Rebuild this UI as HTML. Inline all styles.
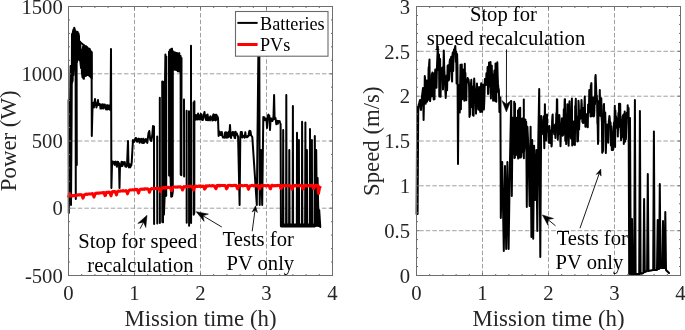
<!DOCTYPE html>
<html><head><meta charset="utf-8"><style>
html,body{margin:0;padding:0;background:#fff;overflow:hidden;}
svg{display:block;will-change:transform;}
text{font-family:"Liberation Serif",serif;fill:#262626;}
.g{stroke:#a0a0a0;stroke-width:1;stroke-dasharray:4.5 2.1;fill:none;}
.ax{stroke:#6e6e6e;stroke-width:1;fill:none;}
.t{stroke:#6e6e6e;stroke-width:1;fill:none;}
.d{fill:none;stroke:#000;stroke-width:2;stroke-linejoin:round;stroke-linecap:round;}
.fill{fill:#000;stroke:none;}
.r{fill:none;stroke:#ff0000;stroke-width:3;stroke-linejoin:round;}
.tl{font-size:20.7px;}
.lab{font-size:22.8px;}
.an{font-size:20.6px;fill:#000;}
.arr{stroke:#000;stroke-width:0.9;fill:none;}
.ah{fill:#000;stroke:#000;stroke-width:0.5;stroke-linejoin:miter;}
</style></head><body>
<svg width="685" height="330" viewBox="0 0 685 330">
<rect width="685" height="330" fill="#fff"/>
<line x1="134.5" y1="6.5" x2="134.5" y2="275.5" class="g"/>
<line x1="200.5" y1="6.5" x2="200.5" y2="275.5" class="g"/>
<line x1="266.5" y1="6.5" x2="266.5" y2="275.5" class="g"/>
<line x1="68.5" y1="73.8" x2="332.5" y2="73.8" class="g" stroke-dashoffset="-2.7"/>
<line x1="68.5" y1="141.0" x2="332.5" y2="141.0" class="g" stroke-dashoffset="-2.7"/>
<line x1="68.5" y1="208.2" x2="332.5" y2="208.2" class="g" stroke-dashoffset="-2.7"/>
<line x1="482.5" y1="6.5" x2="482.5" y2="275.5" class="g"/>
<line x1="548.5" y1="6.5" x2="548.5" y2="275.5" class="g"/>
<line x1="614.5" y1="6.5" x2="614.5" y2="275.5" class="g"/>
<line x1="416.5" y1="51.3" x2="680.5" y2="51.3" class="g" stroke-dashoffset="-2.7"/>
<line x1="416.5" y1="96.2" x2="680.5" y2="96.2" class="g" stroke-dashoffset="-2.7"/>
<line x1="416.5" y1="141.0" x2="680.5" y2="141.0" class="g" stroke-dashoffset="-2.7"/>
<line x1="416.5" y1="185.8" x2="680.5" y2="185.8" class="g" stroke-dashoffset="-2.7"/>
<line x1="416.5" y1="230.7" x2="680.5" y2="230.7" class="g" stroke-dashoffset="-2.7"/>
<path class="d" d="M72.0,34.0 72.1,82.5 72.7,80.3 72.8,32.4 73.4,29.6 73.5,75.1 74.1,68.7 74.2,27.8 74.8,29.4 74.9,64.5 75.5,61.5 75.6,31.1 76.2,32.8 76.3,60.8 76.9,61.9 77.0,32.3 77.6,31.8 77.7,59.4 78.3,59.1 78.4,33.2 79.0,36.2 79.1,60.0 79.7,60.7 79.8,41.5 80.4,45.7 80.5,63.2 81.1,68.1 81.2,49.7 81.8,50.7 81.9,72.5 82.5,77.0 82.6,49.5 83.2,46.3 83.3,78.4 83.9,78.8 84.0,45.3 84.6,46.4 84.7,76.3 85.3,75.6 85.4,46.6 86.0,46.4 86.1,75.7 86.7,75.2 86.8,46.8 87.4,47.8 87.5,74.6 88.1,75.0 88.2,48.3 88.8,48.9 88.9,74.6 89.5,76.2 89.6,48.8 90.2,51.1 90.3,76.5 90.9,77.3 91.0,52.4 91.6,52.7 91.7,78.6"/>
<path class="d" d="M75.6,60 L75.8,199 M76.6,60 L76.8,165"/>
<path class="d" d="M68.6,100.0 68.8,213.0 69.6,150.0 70.6,66.0 71.0,205.0 71.6,120.0 72.0,35.0 72.0,35.0 91.6,52.0 91.8,136.0 92.6,104.0 93.0,106.9 93.4,102.8 93.9,107.6 94.5,103.1 95.0,99.0 95.5,105.0 96.0,103.3 96.4,107.5 96.8,106.1 97.3,103.8 98.0,100.0 98.5,105.0 99.0,103.8 99.5,103.9 100.0,104.3 100.5,108.6 101.0,105.0 101.7,104.5 102.1,108.6 102.7,104.3 103.3,104.7 103.7,108.5 104.2,105.3 104.6,104.5 105.1,105.1 105.6,106.0 106.1,109.4 106.6,107.6 107.2,105.1 107.6,109.5 108.2,105.6 108.6,109.0 109.2,105.4 109.9,109.7 110.6,108.0 111.0,49.0 111.4,188.0 112.0,165.0 112.3,163.4 112.7,161.5 113.3,162.2 113.9,162.3 114.5,164.9 114.9,161.9 115.5,161.6 115.9,164.7 116.5,165.2 116.9,166.8 117.4,161.7 117.8,163.9 118.2,162.1 118.6,164.9 119.0,163.3 119.5,188.0 120.0,166.0 120.3,167.0 120.8,165.9 121.4,162.1 121.7,161.9 122.4,166.1 123.0,162.0 123.5,164.5 124.1,163.2 124.8,162.1 125.3,166.5 125.9,166.5 126.4,166.8 127.1,163.6 128.0,141.0 128.5,166.0 129.0,167.4 129.6,164.3 130.2,167.3 130.7,166.0 131.2,165.7 131.7,162.5 132.4,150.0 133.0,140.0 133.3,142.3 133.9,141.6 134.4,141.7 134.9,139.7 135.5,138.0 136.1,138.0 136.6,140.2 137.0,141.7 137.5,141.2 138.2,138.8 138.5,139.1 139.1,138.7 139.5,142.7 140.0,140.2 140.6,139.4 141.2,138.8 141.7,142.6 142.3,142.9 142.7,141.4 143.2,138.8 143.7,142.9 144.3,142.4 144.9,139.5 145.3,140.6 145.8,139.1 146.2,141.7 146.7,139.4 147.3,142.9 148.5,133.0 149.3,131.0 150.3,140.0 151.2,141.0 152.2,136.0 153.0,126.0"/>
<path class="d" d="M154.0,126.6 154.1,224.0 M157.2,136.4 157.3,223.6 M159.8,97.7 159.9,223.1 M162.2,81.5 162.3,222.0 163.0,222.3 163.1,81.7 163.8,101.6 163.9,214.6 164.6,197.6 164.7,104.2 165.4,54.4 165.5,196.1 166.2,195.8 166.3,56.5 M169.0,51.8 169.1,175.6 169.8,175.8 169.8,50.2 170.5,49.5 170.6,177.7 171.2,196.7 171.3,49.3 172.0,48.6 172.1,196.3 172.8,191.5 172.8,51.1 M174.5,52.3 174.6,69.7 175.3,69.7 175.4,52.8 176.1,52.9 176.2,69.8 176.9,70.2 177.0,52.9 177.7,53.6 177.8,71.2 178.5,71.0 178.6,53.8 179.3,53.1 179.4,71.5 M180.6,56.1 180.7,174.6 181.4,175.1 181.5,57.9 M184.0,99.4 184.1,176.4 M186.6,110.8 186.7,222.7 M189.0,111.3 189.1,225.7 M191.0,45.7 191.1,223.0 M193.6,102.6 193.7,214.8 194.3,213.0 194.4,101.2"/>
<path class="d" d="M194.6,115.0 195.4,115.0 195.8,119.7 196.4,116.9 197.0,114.9 197.7,119.5 198.1,113.5 198.6,117.2 199.2,116.6 199.5,119.4 199.9,119.3 200.3,115.2 200.9,113.9 201.3,117.0 201.8,119.6 202.4,120.0 202.9,120.0 203.3,114.5 203.8,115.0 204.5,112.0 205.0,117.0 205.5,118.4 206.0,119.9 206.5,115.3 207.0,119.9 207.6,114.6 208.2,120.3 208.7,117.9 209.1,117.5 209.6,118.2 210.0,120.4 210.5,116.2 211.1,117.9 211.6,119.1 212.0,117.7 212.4,120.5 213.1,115.2 213.5,114.4 214.0,120.0 214.6,117.2 215.1,114.8 215.6,120.5 216.0,119.9 216.4,114.8 216.8,119.2 217.2,116.1 218.0,118.0 218.6,136.0 219.0,131.5 219.6,131.6 220.1,132.3 220.5,134.9 221.0,133.4 221.4,134.9 221.8,132.0 222.4,136.0 222.9,137.5 223.4,137.5 223.8,136.9 224.4,137.7 224.9,132.9 225.5,132.2 226.2,137.7 226.5,132.4 227.1,132.6 227.5,137.5 228.0,137.3 228.4,133.8 228.9,131.6 229.3,136.6 230.0,125.0 230.6,136.0 231.0,138.1 231.4,134.9 232.0,134.9 232.5,132.3 232.9,131.9 233.3,135.5 233.8,135.6 234.1,132.3 234.6,137.8 235.2,138.1 235.6,131.8 236.2,134.6 236.8,133.3 237.3,135.0 237.8,135.9 238.1,136.7 239.6,205.0 240.3,137.0 240.8,132.0 241.3,136.9 241.8,132.0 242.2,134.8 242.5,137.6 243.1,136.5 243.7,135.8 244.2,135.5 244.7,137.7 245.3,132.3 245.9,136.6 246.5,137.0 247.0,137.3 247.6,136.0 248.1,136.4 248.6,136.0 249.0,132.4 249.5,130.7 249.9,135.1 250.5,131.3 251.1,135.2 252.3,137.0 256.8,205.0 258.5,40.0 259.3,40.0 259.7,205.0 261.0,150.0 262.2,205.0 263.3,117.0 264.0,118.5 264.5,117.4 265.0,120.2 265.5,119.0 266.1,120.3 266.5,118.4 267.0,128.0 267.6,118.0 268.0,115.5 268.5,114.6 268.9,116.5 269.3,115.6 270.0,130.0 270.6,119.0 271.0,118.4 271.5,120.9 272.0,121.0 272.6,120.9 272.9,119.6 273.5,116.2 274.1,95.0 274.6,119.0 275.0,117.6 275.5,118.0 276.0,122.0 276.4,124.2 276.8,121.9 277.4,120.8 277.8,123.8 278.3,120.9 278.9,121.4 279.2,121.3 279.6,121.1 280.2,123.0 280.6,124.0 280.9,226.0 282.9,226.0 283.2,130.0 283.4,226.0 286.1,226.0 286.3,95.0 286.6,226.0 289.1,226.0 289.3,150.0 289.6,226.0 292.6,226.0 292.9,106.0 293.1,226.0 296.8,226.0 297.0,132.7 297.2,226.0 298.6,226.0 298.9,140.0 299.1,226.0 301.9,226.0 302.1,121.8 302.4,226.0 305.1,226.0 305.4,122.5 305.6,226.0 306.6,226.0 306.9,150.0 307.1,226.0 309.8,226.0 310.0,129.0 310.2,226.0 311.6,226.0 311.9,140.0 312.1,226.0 314.5,226.0 314.8,136.0 315.4,226.0 316.2,150.0 317.0,226.0 317.6,178.0 318.6,226.0 319.2,210.0 320.3,227.0"/>
<path class="d" d="M281.2,224.6 L314.6,224.4 M281.2,226.6 L314.6,226.6"/>
<path class="r" d="M68.5,197.5 69.5,193.5 69.0,195.6 69.5,196.2 70.0,196.2 70.5,195.5 71.0,196.0 71.5,195.7 72.0,195.7 72.5,196.0 73.0,195.4 73.5,195.5 74.0,195.8 74.5,195.6 75.0,195.4 75.5,195.7 76.0,195.5 76.5,195.3 77.0,194.9 77.5,195.2 78.0,195.1 78.5,194.8 79.0,194.7 79.5,195.0 80.0,194.6 80.5,194.8 81.0,194.9 81.5,194.7 82.0,195.1 82.5,196.8 83.0,198.2 83.5,196.9 84.0,195.1 84.5,194.8 85.0,194.7 85.5,194.5 86.0,194.2 86.5,194.0 87.0,194.5 87.5,194.4 88.0,194.2 88.5,194.0 89.0,193.9 89.5,194.1 90.0,194.0 90.5,194.0 91.0,194.0 91.5,194.0 92.0,193.5 92.5,193.5 93.0,194.3 93.5,195.7 94.0,197.1 94.5,195.6 95.0,194.1 95.5,193.3 96.0,193.3 96.5,193.4 97.0,193.0 97.5,193.3 98.0,192.9 98.5,192.9 99.0,193.2 99.5,193.1 100.0,193.1 100.5,192.9 101.0,192.9 101.5,192.7 102.0,192.7 102.5,192.9 103.0,193.0 103.5,192.4 104.0,192.4 104.5,194.3 105.0,195.6 105.5,195.4 106.0,193.4 106.5,192.3 107.0,192.2 107.5,192.5 108.0,192.2 108.5,192.3 109.0,192.5 109.5,192.0 110.0,192.7 110.5,194.3 111.0,195.9 111.5,194.0 112.0,192.4 112.5,191.5 113.0,192.0 113.5,191.4 114.0,191.4 114.5,191.7 115.0,191.6 115.5,192.6 116.0,193.7 116.5,194.9 117.0,192.9 117.5,191.4 118.0,191.4 118.5,191.0 119.0,191.1 119.5,191.3 120.0,191.2 120.5,190.9 121.0,190.8 121.5,190.9 122.0,191.1 122.5,190.8 123.0,190.6 123.5,190.9 124.0,190.8 124.5,191.0 125.0,190.9 125.5,190.9 126.0,190.5 126.5,191.3 127.0,192.4 127.5,193.9 128.0,192.4 128.5,191.2 129.0,190.5 129.5,190.0 130.0,190.1 130.5,190.0 131.0,190.0 131.5,190.0 132.0,189.9 132.5,189.7 133.0,189.9 133.5,190.0 134.0,189.8 134.5,190.0 135.0,189.7 135.5,189.4 136.0,189.8 136.5,189.8 137.0,189.4 137.5,189.8 138.0,191.6 138.5,193.1 139.0,191.6 139.5,190.3 140.0,189.5 140.5,189.5 141.0,189.0 141.5,189.3 142.0,189.4 142.5,188.9 143.0,188.9 143.5,189.3 144.0,189.4 144.5,188.8 145.0,189.1 145.5,188.7 146.0,189.1 146.5,189.0 147.0,188.7 147.5,188.7 148.0,189.0 148.5,189.4 149.0,191.1 149.5,192.3 150.0,190.7 150.5,189.6 151.0,188.8 151.5,188.6 152.0,188.6 152.5,188.7 153.0,188.7 153.5,188.8 154.0,188.4 154.5,188.7 155.0,188.5 155.5,188.6 156.0,188.5 156.5,188.5 157.0,188.5 157.5,188.6 158.0,188.3 158.5,188.2 159.0,188.3 159.5,188.9 160.0,190.1 160.5,191.6 161.0,189.9 161.5,188.7 162.0,188.3 162.5,187.8 163.0,187.6 163.5,187.6 164.0,187.8 164.5,187.6 165.0,188.1 165.5,187.4 166.0,187.6 166.5,187.4 167.0,187.7 167.5,187.8 168.0,187.3 168.5,187.2 169.0,187.5 169.5,187.5 170.0,187.7 170.5,187.7 171.0,189.2 171.5,190.7 172.0,189.2 172.5,187.7 173.0,187.4 173.5,187.3 174.0,187.0 174.5,186.9 175.0,187.0 175.5,186.9 176.0,187.2 176.5,186.9 177.0,187.0 177.5,187.2 178.0,186.9 178.5,186.7 179.0,187.1 179.5,187.1 180.0,186.7 180.5,186.8 181.0,187.1 181.5,187.3 182.0,188.6 182.5,190.0 183.0,189.1 183.5,187.5 184.0,186.6 184.5,186.7 185.0,186.7 185.5,186.5 186.0,187.0 186.5,186.7 187.0,186.4 187.5,186.2 188.0,186.5 188.5,186.5 189.0,186.7 189.5,186.7 190.0,186.6 190.5,186.2 191.0,186.2 191.5,186.3 192.0,186.3 192.5,187.3 193.0,188.5 193.5,190.1 194.0,188.8 194.5,186.8 195.0,186.4 195.5,186.1 196.0,186.5 196.5,186.0 197.0,186.5 197.5,186.5 198.0,186.5 198.5,186.0 199.0,186.1 199.5,186.4 200.0,185.9 200.5,186.2 201.0,186.1 201.5,186.5 202.0,186.2 202.5,186.4 203.0,186.0 203.5,186.3 204.0,187.2 204.5,189.1 205.0,188.8 205.5,187.8 206.0,185.8 206.5,186.0 207.0,186.0 207.5,185.7 208.0,186.2 208.5,185.8 209.0,185.8 209.5,185.6 210.0,185.8 210.5,185.9 211.0,186.0 211.5,185.8 212.0,186.0 212.5,185.5 213.0,185.7 213.5,185.8 214.0,186.1 214.5,186.0 215.0,187.1 215.5,188.1 216.0,188.6 216.5,187.4 217.0,185.5 217.5,185.7 218.0,185.6 218.5,185.3 219.0,186.0 219.5,185.8 220.0,185.4 220.5,185.7 221.0,185.5 221.5,185.5 222.0,185.6 222.5,185.5 223.0,185.5 223.5,185.5 224.0,185.7 224.5,185.4 225.0,185.4 225.5,185.8 226.0,187.0 226.5,188.9 227.0,188.3 227.5,187.0 228.0,185.5 228.5,185.8 229.0,185.3 229.5,185.3 230.0,185.3 230.5,185.7 231.0,185.7 231.5,185.4 232.0,185.5 232.5,185.8 233.0,185.7 233.5,185.3 234.0,185.4 234.5,185.4 235.0,185.3 235.5,185.5 236.0,185.3 236.5,186.2 237.0,187.3 237.5,188.9 238.0,188.1 238.5,186.7 239.0,185.8 239.5,185.5 240.0,185.5 240.5,185.5 241.0,185.3 241.5,185.5 242.0,185.7 242.5,185.9 243.0,185.8 243.5,185.7 244.0,185.7 244.5,185.3 245.0,185.5 245.5,185.5 246.0,185.7 246.5,185.3 247.0,185.5 247.5,186.2 248.0,187.9 248.5,189.4 249.0,187.8 249.5,186.0 250.0,185.8 250.5,185.9 251.0,185.6 251.5,185.5 252.0,185.6 252.5,185.3 253.0,185.7 253.5,185.9 254.0,185.6 254.5,185.8 255.0,185.8 255.5,185.4 256.0,185.9 256.5,185.7 257.0,185.4 257.5,185.3 258.0,185.4 258.5,186.6 259.0,188.1 259.5,188.8 260.0,187.7 260.5,185.8 261.0,185.6 261.5,185.3 262.0,185.9 262.5,185.3 263.0,185.9 263.5,185.6 264.0,185.6 264.5,185.6 265.0,185.4 265.5,185.9 266.0,185.9 266.5,185.8 267.0,185.7 267.5,185.3 268.0,185.8 268.5,185.5 269.0,185.9 269.5,186.6 270.0,188.4 270.5,188.8 271.0,186.9 271.5,185.6 272.0,185.3 272.5,185.3 273.0,185.4 273.5,185.9 274.0,185.9 274.5,185.7 275.0,185.5 275.5,185.7 276.0,185.8 276.5,185.5 277.0,185.7 277.5,185.8 278.0,185.3 278.5,185.4 279.0,185.6 279.5,185.4 280.0,185.5 280.5,187.1 281.0,188.4 281.5,188.3 282.0,186.6 282.5,185.6 283.0,185.5 283.5,185.7 284.0,185.3 284.5,185.7 285.0,185.4 285.5,185.9 286.0,185.7 286.5,185.6 287.0,185.5 287.5,185.7 288.0,185.7 288.5,185.8 289.0,185.8 289.5,185.6 290.0,185.9 290.5,185.8 291.0,186.4 291.5,187.6 292.0,189.2 292.5,187.7 293.0,186.5 293.5,185.6 294.0,185.6 294.5,185.6 295.0,185.9 295.5,185.5 296.0,185.3 296.5,185.8 297.0,185.9 297.5,185.8 298.0,185.7 298.5,185.8 299.0,185.5 299.5,185.7 300.0,185.3 300.5,185.3 301.0,185.6 301.5,185.6 302.0,186.4 302.5,187.7 303.0,189.0 303.5,187.4 304.0,185.7 304.5,185.5 305.0,185.5 305.5,185.4 306.0,185.3 306.5,185.9 307.0,185.9 307.5,185.7 308.0,185.9 308.5,185.5 309.0,185.8 309.5,185.4 310.0,185.8 310.5,185.6 311.0,185.9 311.5,185.3 312.0,185.8 312.5,185.3 313.0,186.8 313.5,188.6 314.0,188.3 314.5,186.9 315.0,185.5 315.5,185.5 316.0,185.3 316.5,185.9 317.0,185.8 317.5,185.5 318.0,185.5 318.5,193.5 319.5,188.0 320.5,186.0"/>
<path class="d" d="M416.6,214.0 417.2,107.0 417.6,214.0 418.2,112.0 419.0,104.0 420.0,100.0 421.0,110.0 422.0,96.0 423.0,88.0 423.6,120.0 424.2,90.0 424.5,94.7 424.8,76.0 425.3,81.9 425.7,103.7 426.2,88.0 426.5,80.5 427.0,101.7 427.4,100.2 427.7,84.5 428.0,100.1 428.6,68.4 429.0,65.7 429.5,59.4 429.8,94.8 430.1,101.1 430.6,95.6 430.9,95.5 431.5,83.6 431.8,74.1 432.1,96.2 432.4,72.5 432.8,93.6 433.2,79.3 433.7,99.6 434.1,73.3 434.5,99.3 434.9,74.5 435.3,69.6 435.8,80.9 436.2,84.9 436.5,87.8 436.9,68.2 437.8,46.5 438.4,70.0 439.0,54.4 439.3,96.6 439.7,63.2 440.1,58.9 440.6,96.7 440.9,73.2 441.3,68.6 441.8,75.2 442.2,78.4 442.6,67.2 443.0,89.5 443.8,50.5 444.3,70.0 444.8,77.9 445.3,89.4 445.7,97.9 446.0,93.1 446.3,84.9 446.7,75.6 447.1,90.3 447.6,65.9 448.0,65.2 448.4,76.2 448.7,80.5 449.2,79.2 449.6,62.4 450.0,59.3 450.4,71.0 450.7,62.7 451.2,56.7 451.7,74.3 452.1,81.6 452.5,54.8 452.8,52.4 453.2,70.9 453.6,54.7 454.0,49.5 454.5,49.7 455.3,46.0 455.9,62.0 456.2,51.5 456.6,83.4 457.1,54.1 457.5,67.6 458.0,164.0 458.6,85.0 459.0,107.9 459.3,85.3 459.8,112.5 460.1,85.7 460.5,64.7 460.9,109.2 461.2,79.5 461.5,81.1 461.8,64.6 462.3,99.3 462.8,69.3 463.1,86.2 463.5,80.7 464.0,74.9 464.3,100.8 464.8,63.8 465.1,90.2 465.4,72.9 465.9,98.0 466.3,100.2 466.7,79.8 467.2,82.3 467.7,78.0 468.0,79.4 468.4,79.3 468.8,81.5 469.1,86.3 469.5,116.9 470.0,114.6 470.3,90.2 470.6,107.4 471.0,83.8 471.3,79.8 471.6,89.1 472.1,107.0 472.4,86.6 472.8,114.9 473.1,110.6 473.6,115.8 473.9,86.3 474.2,78.5 474.7,88.6 475.2,101.0 475.5,94.2 476.0,113.6 476.6,92.0 477.0,83.6 477.3,105.8 477.6,91.4 478.0,102.6 478.3,109.5 478.6,109.6 479.1,86.9 479.4,90.3 479.9,94.8 480.2,111.9 480.6,89.6 480.9,86.8 481.2,83.3 481.7,100.6 482.1,111.9 482.5,104.4 483.0,84.5 483.4,103.4 483.9,109.4 484.3,101.3 484.6,91.2 484.9,78.9 485.3,84.7 485.7,80.7 486.0,84.9 486.4,73.3 486.9,73.5 487.2,76.7 487.6,67.0 488.0,94.0 488.4,93.6 488.7,75.4 489.0,62.7 489.4,62.5 489.8,86.4 490.2,71.2 490.5,62.1 490.9,98.5 491.3,68.3 491.8,65.7 492.2,88.3 492.7,74.2 493.1,100.7 493.6,89.9 494.0,77.9 494.4,70.5 494.8,100.3 495.2,101.0 495.5,63.6 495.9,70.0 496.3,101.8 496.6,63.7 496.9,92.5 497.3,62.2 497.7,77.0 498.0,83.9 498.4,88.3 498.9,90.1 499.3,105.8 499.4,112.0 500.4,97.4 500.8,218.0 502.2,162.0 503.8,251.0 505.0,166.0 506.2,249.0 507.4,162.0 508.6,249.0 509.8,170.0 511.2,101.0 511.8,196.0 512.6,120.0"/>
<path class="d" d="M514.2,101.7 514.3,158.0 514.9,157.8 515.0,103.6 M518.0,110.4 518.1,158.1 518.7,157.3 518.8,111.5 519.4,108.2 519.5,157.0 520.1,156.5 520.2,107.7 M523.8,99.5 523.9,158.3 M511.0,118.6 511.1,148.3 511.8,151.2 511.9,117.6 512.6,117.8 512.7,152.8 513.4,154.3 513.5,118.2 514.2,117.4 514.3,155.7 515.0,152.4 515.1,117.5 515.8,117.6 515.9,154.5 516.6,154.8 516.7,118.9 517.4,117.8 517.5,153.1 518.2,158.5 518.3,119.2 519.0,118.0 519.1,156.3 519.8,157.5 519.9,119.2 520.6,119.1 520.7,157.6 521.4,156.0 521.5,119.1 522.2,118.4 522.3,152.3 523.0,150.7 523.1,119.5 523.8,118.9 523.9,152.0 524.6,149.7 524.7,119.3 525.4,119.6 525.5,147.5"/>
<path class="d" d="M525.8,123.0 526.2,122.0 526.8,207.0 527.4,126.8 528.5,150.0 529.6,206.0 530.6,126.8 531.4,237.0 532.2,140.0 533.2,238.8 534.1,145.8 535.2,200.0 536.4,150.0 537.3,231.0 538.3,140.0 539.2,89.0 540.3,257.0 541.2,116.0 541.6,132.1 541.9,134.3 542.2,130.1 542.5,129.1 542.8,132.0 543.1,127.5 543.4,120.1 543.7,116.3 544.0,136.7 544.3,148.3 544.6,130.6 544.9,104.2 545.2,129.8 545.5,129.0 545.8,119.4 546.1,140.4 546.4,119.3 546.7,131.6 547.0,114.6 547.3,130.8 547.6,130.7 547.9,131.9 548.2,126.9 548.5,137.3 548.8,142.7 549.1,132.7 549.4,125.9 549.7,131.8 550.0,142.9 550.3,134.4 550.6,133.6 550.9,130.6 551.2,132.6 551.5,146.5 551.8,144.7 552.1,121.6 552.4,116.4 552.7,114.5 553.0,131.8 553.3,126.4 553.6,125.9 553.9,126.9 554.2,134.3 554.5,132.7 554.8,125.8 555.1,124.5 555.4,137.9 555.7,130.5 556.0,125.5 556.3,113.2 556.6,123.5 556.9,99.2 557.2,99.5 557.5,124.9 557.8,139.7 558.1,132.9 558.4,116.2 558.7,133.9 559.0,121.3 559.3,114.9 559.6,118.6 559.9,127.2 560.2,130.6 560.5,146.2 560.8,135.7 561.1,134.0 561.4,126.7 561.7,125.9 562.0,118.3 562.3,134.9 562.6,135.8 562.9,121.4 563.2,135.0 563.5,127.0 563.8,109.2 564.1,127.5 564.4,112.1 564.7,99.3 565.0,99.3 565.3,140.8 565.6,117.8 565.9,132.3 566.2,144.1 566.5,116.4 566.8,115.0 567.1,117.4 567.4,104.2 567.7,120.5 568.0,124.0 568.3,139.2 568.6,145.7 568.9,135.5 569.2,105.8 569.5,101.2 569.8,133.6 570.1,126.7 570.4,136.5 570.7,127.7 571.0,138.5 571.3,128.3 571.6,108.5 571.9,98.6 572.2,145.6 572.5,128.8 572.8,124.7 573.1,144.6 573.4,136.1 573.7,121.6 574.0,135.1 574.3,133.6 574.6,127.3 574.9,145.0 575.2,105.9 575.5,107.1 575.8,98.8 576.1,116.1 576.4,122.0 576.7,116.4 577.0,128.4 577.3,141.4 577.6,133.4 577.9,141.2 578.2,134.5 578.5,100.7 578.8,106.7 579.1,129.4 579.4,122.0 579.7,115.0 580.0,113.1 580.3,118.8 580.6,111.8 580.9,110.1 581.2,109.2 581.5,100.0 581.8,105.9 582.1,116.5 582.4,122.0 582.7,108.8 583.0,123.1 583.3,115.4 583.6,107.7 583.9,108.0 584.2,122.6 584.5,104.6 584.8,96.4 585.1,119.1 585.4,126.8 585.7,123.5 586.0,126.6 586.3,115.7 586.6,114.3 586.9,125.4 587.2,117.3 587.5,126.7 587.8,127.2 588.1,104.4 588.4,112.6 588.7,108.2 589.0,106.4 589.3,90.0 589.6,104.6 589.9,106.7 590.2,98.8 590.5,116.4 590.8,85.2 591.1,84.2 591.4,83.1 591.7,114.6 592.0,116.2 592.3,111.3 592.6,103.7 592.9,97.6 593.2,98.0 593.5,109.9 593.8,116.5 594.1,115.7 594.4,110.0 594.7,96.4 595.0,104.2 595.3,77.7 595.6,75.0 595.9,82.7 596.2,89.8 596.5,98.8 596.8,95.5 597.1,102.5 597.4,123.0 597.7,124.8 598.0,144.0 598.3,140.5 598.6,104.2 598.9,100.9 599.2,112.2 599.5,103.8 599.8,90.0 600.1,115.6 600.4,113.0 600.7,116.0 601.0,115.1 601.3,98.2 601.6,117.8 601.9,122.1 602.2,152.8 602.5,152.1 602.8,151.5 603.1,150.4 603.4,122.5 603.7,105.5 604.0,104.0 604.3,117.2 604.6,122.1 604.9,116.4 605.2,112.4 605.5,122.6 605.8,153.1 606.1,143.9 606.4,127.7 606.7,132.1 607.0,124.4 607.3,137.9 607.6,130.2 607.9,128.7 608.2,142.7 608.5,134.2 608.8,121.6 609.1,119.0 609.4,116.0 609.7,117.8 610.0,123.7 610.3,122.1 610.6,122.5 610.9,145.4 611.2,126.2 611.5,131.7 611.8,150.0 612.1,133.0 612.4,137.3 612.7,147.4 613.0,150.0 613.3,139.6 613.6,128.3 613.9,123.3 614.2,121.9 614.5,121.7 614.8,105.8 615.1,146.9 615.4,110.6 615.7,125.4 616.0,116.2 616.3,121.9 616.6,127.8 616.9,127.3 617.2,118.7 617.5,119.7 617.8,136.6 618.1,125.0 618.4,112.9 618.7,127.1 619.0,103.7 619.3,108.4 619.6,107.7 619.9,103.8 620.2,103.9 620.5,128.4 620.8,133.3 621.1,140.2 621.4,136.0 621.7,137.5 622.0,119.5 622.3,131.3 622.6,117.0 622.9,115.6 623.2,118.3 623.5,114.5 623.8,144.0 624.1,128.0 624.4,122.7 624.7,111.6 625.0,141.8 625.3,126.3 625.6,125.3 625.9,139.3 626.2,129.2 626.5,121.4 626.8,112.7 627.1,114.1 627.4,118.1 627.7,105.3 628.0,113.8 628.6,108.0 629.2,274.0 630.0,118.0 630.8,274.0 631.4,274.0 632.0,219.0 632.6,274.0 634.2,274.0 634.9,100.0 635.6,274.0 639.2,274.0 639.9,111.0 640.6,274.0 643.4,273.0 644.1,199.0 644.8,272.0 647.1,271.0 647.8,174.0 648.5,271.0 653.2,270.0 653.9,131.4 654.6,270.0 657.0,270.0 657.7,220.0 658.4,269.0 659.1,269.0 659.8,184.0 660.5,268.0 662.3,268.0 663.0,221.0 663.7,268.0 664.6,268.0 665.3,212.0 666.0,270.0 668.0,272.0 669.0,273.0"/>
<path d="M68.5,6.5v2.7M68.5,275.5v-2.7M134.5,6.5v2.7M134.5,275.5v-2.7M200.5,6.5v2.7M200.5,275.5v-2.7M266.5,6.5v2.7M266.5,275.5v-2.7M332.5,6.5v2.7M332.5,275.5v-2.7M68.5,6.5h2.7M332.5,6.5h-2.7M68.5,73.8h2.7M332.5,73.8h-2.7M68.5,141.0h2.7M332.5,141.0h-2.7M68.5,208.2h2.7M332.5,208.2h-2.7M68.5,275.5h2.7M332.5,275.5h-2.7M81.7,6.5v1.5M81.7,275.5v-1.5M94.9,6.5v1.5M94.9,275.5v-1.5M108.1,6.5v1.5M108.1,275.5v-1.5M121.3,6.5v1.5M121.3,275.5v-1.5M147.7,6.5v1.5M147.7,275.5v-1.5M160.9,6.5v1.5M160.9,275.5v-1.5M174.1,6.5v1.5M174.1,275.5v-1.5M187.3,6.5v1.5M187.3,275.5v-1.5M213.7,6.5v1.5M213.7,275.5v-1.5M226.9,6.5v1.5M226.9,275.5v-1.5M240.1,6.5v1.5M240.1,275.5v-1.5M253.3,6.5v1.5M253.3,275.5v-1.5M279.7,6.5v1.5M279.7,275.5v-1.5M292.9,6.5v1.5M292.9,275.5v-1.5M306.1,6.5v1.5M306.1,275.5v-1.5M319.3,6.5v1.5M319.3,275.5v-1.5M68.5,19.9h1.5M332.5,19.9h-1.5M68.5,33.4h1.5M332.5,33.4h-1.5M68.5,46.8h1.5M332.5,46.8h-1.5M68.5,60.3h1.5M332.5,60.3h-1.5M68.5,87.2h1.5M332.5,87.2h-1.5M68.5,100.6h1.5M332.5,100.6h-1.5M68.5,114.1h1.5M332.5,114.1h-1.5M68.5,127.5h1.5M332.5,127.5h-1.5M68.5,154.4h1.5M332.5,154.4h-1.5M68.5,167.9h1.5M332.5,167.9h-1.5M68.5,181.3h1.5M332.5,181.3h-1.5M68.5,194.8h1.5M332.5,194.8h-1.5M68.5,221.7h1.5M332.5,221.7h-1.5M68.5,235.1h1.5M332.5,235.1h-1.5M68.5,248.6h1.5M332.5,248.6h-1.5M68.5,262.0h1.5M332.5,262.0h-1.5" class="t"/>
<rect x="68.5" y="6.5" width="264.0" height="269.0" class="ax"/>
<path d="M416.5,6.5v2.7M416.5,275.5v-2.7M482.5,6.5v2.7M482.5,275.5v-2.7M548.5,6.5v2.7M548.5,275.5v-2.7M614.5,6.5v2.7M614.5,275.5v-2.7M680.5,6.5v2.7M680.5,275.5v-2.7M416.5,6.5h2.7M680.5,6.5h-2.7M416.5,51.3h2.7M680.5,51.3h-2.7M416.5,96.2h2.7M680.5,96.2h-2.7M416.5,141.0h2.7M680.5,141.0h-2.7M416.5,185.8h2.7M680.5,185.8h-2.7M416.5,230.7h2.7M680.5,230.7h-2.7M416.5,275.5h2.7M680.5,275.5h-2.7M429.7,6.5v1.5M429.7,275.5v-1.5M442.9,6.5v1.5M442.9,275.5v-1.5M456.1,6.5v1.5M456.1,275.5v-1.5M469.3,6.5v1.5M469.3,275.5v-1.5M495.7,6.5v1.5M495.7,275.5v-1.5M508.9,6.5v1.5M508.9,275.5v-1.5M522.1,6.5v1.5M522.1,275.5v-1.5M535.3,6.5v1.5M535.3,275.5v-1.5M561.7,6.5v1.5M561.7,275.5v-1.5M574.9,6.5v1.5M574.9,275.5v-1.5M588.1,6.5v1.5M588.1,275.5v-1.5M601.3,6.5v1.5M601.3,275.5v-1.5M627.7,6.5v1.5M627.7,275.5v-1.5M640.9,6.5v1.5M640.9,275.5v-1.5M654.1,6.5v1.5M654.1,275.5v-1.5M667.3,6.5v1.5M667.3,275.5v-1.5M416.5,15.5h1.5M680.5,15.5h-1.5M416.5,24.4h1.5M680.5,24.4h-1.5M416.5,33.4h1.5M680.5,33.4h-1.5M416.5,42.4h1.5M680.5,42.4h-1.5M416.5,60.3h1.5M680.5,60.3h-1.5M416.5,69.3h1.5M680.5,69.3h-1.5M416.5,78.2h1.5M680.5,78.2h-1.5M416.5,87.2h1.5M680.5,87.2h-1.5M416.5,105.1h1.5M680.5,105.1h-1.5M416.5,114.1h1.5M680.5,114.1h-1.5M416.5,123.1h1.5M680.5,123.1h-1.5M416.5,132.0h1.5M680.5,132.0h-1.5M416.5,150.0h1.5M680.5,150.0h-1.5M416.5,158.9h1.5M680.5,158.9h-1.5M416.5,167.9h1.5M680.5,167.9h-1.5M416.5,176.9h1.5M680.5,176.9h-1.5M416.5,194.8h1.5M680.5,194.8h-1.5M416.5,203.8h1.5M680.5,203.8h-1.5M416.5,212.7h1.5M680.5,212.7h-1.5M416.5,221.7h1.5M680.5,221.7h-1.5M416.5,239.6h1.5M680.5,239.6h-1.5M416.5,248.6h1.5M680.5,248.6h-1.5M416.5,257.6h1.5M680.5,257.6h-1.5M416.5,266.5h1.5M680.5,266.5h-1.5" class="t"/>
<rect x="416.5" y="6.5" width="264.0" height="269.0" class="ax"/>
<text class="tl" x="62.8" y="13.7" text-anchor="end">1500</text>
<text class="tl" x="62.8" y="81.0" text-anchor="end">1000</text>
<text class="tl" x="62.8" y="148.2" text-anchor="end">500</text>
<text class="tl" x="62.8" y="215.4" text-anchor="end">0</text>
<text class="tl" x="62.8" y="282.7" text-anchor="end">-500</text>
<text class="tl" x="68.5" y="299.6" text-anchor="middle">0</text>
<text class="tl" x="134.5" y="299.6" text-anchor="middle">1</text>
<text class="tl" x="200.5" y="299.6" text-anchor="middle">2</text>
<text class="tl" x="266.5" y="299.6" text-anchor="middle">3</text>
<text class="tl" x="332.5" y="299.6" text-anchor="middle">4</text>
<text class="tl" x="410" y="13.7" text-anchor="end">3</text>
<text class="tl" x="410" y="58.5" text-anchor="end">2.5</text>
<text class="tl" x="410" y="103.4" text-anchor="end">2</text>
<text class="tl" x="410" y="148.2" text-anchor="end">1.5</text>
<text class="tl" x="410" y="193.0" text-anchor="end">1</text>
<text class="tl" x="410" y="237.9" text-anchor="end">0.5</text>
<text class="tl" x="410" y="282.7" text-anchor="end">0</text>
<text class="tl" x="416.5" y="299.6" text-anchor="middle">0</text>
<text class="tl" x="482.5" y="299.6" text-anchor="middle">1</text>
<text class="tl" x="548.5" y="299.6" text-anchor="middle">2</text>
<text class="tl" x="614.5" y="299.6" text-anchor="middle">3</text>
<text class="tl" x="680.5" y="299.6" text-anchor="middle">4</text>
<text class="lab" x="200.5" y="325.6" text-anchor="middle">Mission time (h)</text>
<text class="lab" x="548.5" y="325.6" text-anchor="middle">Mission time (h)</text>
<text class="lab" transform="translate(16.1,140.8) rotate(-90)" text-anchor="middle">Power (W)</text>
<text class="lab" transform="translate(378.5,141.2) rotate(-90)" text-anchor="middle">Speed (m/s)</text>
<rect x="235.5" y="11.5" width="92.5" height="44.7" fill="#fff" stroke="#6a6a6a" stroke-width="1.1"/>
<line x1="237.4" y1="22.9" x2="257.6" y2="22.9" stroke="#000" stroke-width="2"/>
<line x1="237.4" y1="44.5" x2="257.6" y2="44.5" stroke="#ff0000" stroke-width="3"/>
<text x="260" y="29.7" style="font-size:18.2px;fill:#000">Batteries</text>
<text x="260" y="51.3" style="font-size:18.2px;fill:#000">PVs</text>
<text class="an" x="137.8" y="247.5" text-anchor="middle">Stop for speed</text>
<text class="an" x="140.5" y="272.1" text-anchor="middle">recalculation</text>
<text class="an" x="258.2" y="245.5" text-anchor="middle">Tests for</text>
<text class="an" x="260.3" y="269.5" text-anchor="middle">PV only</text>
<text class="an" x="503.4" y="21" text-anchor="middle">Stop for</text>
<text class="an" x="506" y="44.7" text-anchor="middle">speed recalculation</text>
<text class="an" x="592.3" y="244.5" text-anchor="middle">Tests for</text>
<text class="an" x="589.4" y="268.7" text-anchor="middle">PV only</text>
<line class="arr" x1="140.1" y1="228.7" x2="143.5" y2="222.2"/><path class="ah" d="M147.0,215.3L145.8,227.5L143.5,222.2L137.8,223.4Z"/>
<line class="arr" x1="221.8" y1="227.0" x2="203.0" y2="215.8"/><path class="ah" d="M196.2,211.7L208.4,214.1L203.0,215.8L204.1,221.4Z"/>
<line class="arr" x1="252.2" y1="231.3" x2="255.0" y2="210.2"/><path class="ah" d="M255.6,205.8L257.4,212.6L255.0,210.2L252.1,211.9Z"/>
<line class="arr" x1="506.5" y1="49.5" x2="506.4" y2="104.2"/><path class="ah" d="M506.4,112.0L501.9,100.5L506.4,104.2L510.9,100.5Z"/>
<line class="arr" x1="555.5" y1="225.8" x2="548.0" y2="219.6"/><path class="ah" d="M542.4,214.9L553.5,218.5L548.0,219.6L547.9,225.2Z"/>
<line class="arr" x1="580.0" y1="228.2" x2="599.3" y2="173.3"/><path class="ah" d="M600.8,169.1L601.1,176.1L599.3,173.3L596.2,174.4Z"/>
</svg>
</body></html>
